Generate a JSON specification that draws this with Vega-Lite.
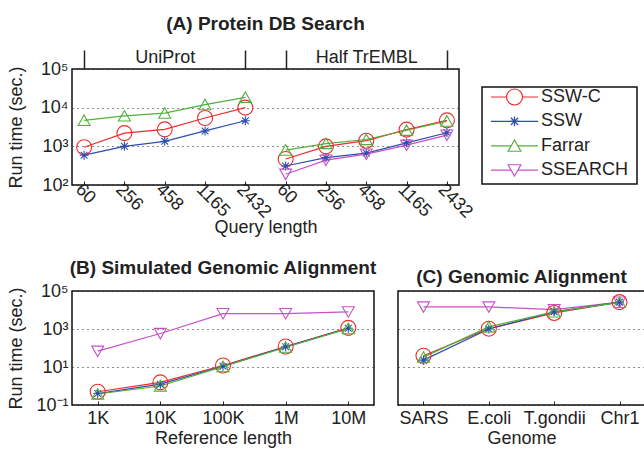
{
  "$schema": "https://vega.github.io/schema/vega-lite/v6.json",
  "padding": {"left": 6, "top": 14, "right": 0, "bottom": 0},
  "background": "white",
  "config": {
    "font": "Liberation Sans",
    "view": {"stroke": "#111", "strokeWidth": 1.5},
    "axis": {"labelFont": "Liberation Sans", "titleFont": "Liberation Sans", "labelFontSize": 18, "titleFontSize": 18, "titleFontWeight": "normal", "labelColor": "#222", "titleColor": "#222", "domain": false, "tickColor": "#222", "grid": false},
    "title": {"font": "Liberation Sans", "fontSize": 19, "fontWeight": "bold", "color": "#222"}
  },
  "datasets": {
    "protein": [
      {"db": "UniProt", "i": 0, "algo": "SSW-C", "t": 950},
      {"db": "UniProt", "i": 1, "algo": "SSW-C", "t": 2200},
      {"db": "UniProt", "i": 2, "algo": "SSW-C", "t": 2750},
      {"db": "UniProt", "i": 3, "algo": "SSW-C", "t": 5400},
      {"db": "UniProt", "i": 4, "algo": "SSW-C", "t": 10000},
      {"db": "Half TrEMBL", "i": 5, "algo": "SSW-C", "t": 470},
      {"db": "Half TrEMBL", "i": 6, "algo": "SSW-C", "t": 1000},
      {"db": "Half TrEMBL", "i": 7, "algo": "SSW-C", "t": 1400},
      {"db": "Half TrEMBL", "i": 8, "algo": "SSW-C", "t": 2700},
      {"db": "Half TrEMBL", "i": 9, "algo": "SSW-C", "t": 4700},
      {"db": "UniProt", "i": 0, "algo": "SSW", "t": 590},
      {"db": "UniProt", "i": 1, "algo": "SSW", "t": 1000},
      {"db": "UniProt", "i": 2, "algo": "SSW", "t": 1350},
      {"db": "UniProt", "i": 3, "algo": "SSW", "t": 2500},
      {"db": "UniProt", "i": 4, "algo": "SSW", "t": 4600},
      {"db": "Half TrEMBL", "i": 5, "algo": "SSW", "t": 310},
      {"db": "Half TrEMBL", "i": 6, "algo": "SSW", "t": 510},
      {"db": "Half TrEMBL", "i": 7, "algo": "SSW", "t": 670},
      {"db": "Half TrEMBL", "i": 8, "algo": "SSW", "t": 1230},
      {"db": "Half TrEMBL", "i": 9, "algo": "SSW", "t": 2250},
      {"db": "UniProt", "i": 0, "algo": "Farrar", "t": 4700},
      {"db": "UniProt", "i": 1, "algo": "Farrar", "t": 6100},
      {"db": "UniProt", "i": 2, "algo": "Farrar", "t": 7200},
      {"db": "UniProt", "i": 3, "algo": "Farrar", "t": 12000},
      {"db": "UniProt", "i": 4, "algo": "Farrar", "t": 18500},
      {"db": "Half TrEMBL", "i": 5, "algo": "Farrar", "t": 800},
      {"db": "Half TrEMBL", "i": 6, "algo": "Farrar", "t": 1180},
      {"db": "Half TrEMBL", "i": 7, "algo": "Farrar", "t": 1500},
      {"db": "Half TrEMBL", "i": 8, "algo": "Farrar", "t": 2600},
      {"db": "Half TrEMBL", "i": 9, "algo": "Farrar", "t": 4500},
      {"db": "Half TrEMBL", "i": 5, "algo": "SSEARCH", "t": 190},
      {"db": "Half TrEMBL", "i": 6, "algo": "SSEARCH", "t": 440},
      {"db": "Half TrEMBL", "i": 7, "algo": "SSEARCH", "t": 630},
      {"db": "Half TrEMBL", "i": 8, "algo": "SSEARCH", "t": 1070},
      {"db": "Half TrEMBL", "i": 9, "algo": "SSEARCH", "t": 1950}
    ],
    "sim": [
      {"ref": "1K", "algo": "SSEARCH", "t": 68},
      {"ref": "10K", "algo": "SSEARCH", "t": 580},
      {"ref": "100K", "algo": "SSEARCH", "t": 6500},
      {"ref": "1M", "algo": "SSEARCH", "t": 6500},
      {"ref": "10M", "algo": "SSEARCH", "t": 8000},
      {"ref": "1K", "algo": "SSW-C", "t": 0.5},
      {"ref": "10K", "algo": "SSW-C", "t": 1.55},
      {"ref": "100K", "algo": "SSW-C", "t": 12},
      {"ref": "1M", "algo": "SSW-C", "t": 120},
      {"ref": "10M", "algo": "SSW-C", "t": 1150},
      {"ref": "1K", "algo": "SSW", "t": 0.4},
      {"ref": "10K", "algo": "SSW", "t": 1.25},
      {"ref": "100K", "algo": "SSW", "t": 11},
      {"ref": "1M", "algo": "SSW", "t": 115},
      {"ref": "10M", "algo": "SSW", "t": 1100},
      {"ref": "1K", "algo": "Farrar", "t": 0.38},
      {"ref": "10K", "algo": "Farrar", "t": 1.0},
      {"ref": "100K", "algo": "Farrar", "t": 10.5},
      {"ref": "1M", "algo": "Farrar", "t": 110},
      {"ref": "10M", "algo": "Farrar", "t": 1050}
    ],
    "genome": [
      {"g": "SARS", "algo": "SSEARCH", "t": 14500},
      {"g": "E.coli", "algo": "SSEARCH", "t": 14500},
      {"g": "T.gondii", "algo": "SSEARCH", "t": 10500},
      {"g": "Chr1", "algo": "SSEARCH", "t": 26000},
      {"g": "SARS", "algo": "SSW-C", "t": 39},
      {"g": "E.coli", "algo": "SSW-C", "t": 1040},
      {"g": "T.gondii", "algo": "SSW-C", "t": 7000},
      {"g": "Chr1", "algo": "SSW-C", "t": 26000},
      {"g": "SARS", "algo": "SSW", "t": 23},
      {"g": "E.coli", "algo": "SSW", "t": 1000},
      {"g": "T.gondii", "algo": "SSW", "t": 8000},
      {"g": "Chr1", "algo": "SSW", "t": 26000},
      {"g": "SARS", "algo": "Farrar", "t": 33},
      {"g": "E.coli", "algo": "Farrar", "t": 1300},
      {"g": "T.gondii", "algo": "Farrar", "t": 8000},
      {"g": "Chr1", "algo": "Farrar", "t": 25000}
    ],
    "legendrows": [
      {"algo": "SSW-C"}, {"algo": "SSW"}, {"algo": "Farrar"}, {"algo": "SSEARCH"}
    ]
  },
  "spacing": 21,
  "vconcat": [
    {
      "spacing": 5,
      "hconcat": [
        {
          "title": {"text": "(A) Protein DB Search", "offset": 14},
          "width": 387,
          "height": 116,
          "data": {"name": "protein"},
          "layer": [
            {
              "mark": {"type": "line", "strokeWidth": 1.2},
              "encoding": {
                "x": {"field": "i", "type": "quantitative", "scale": {"domain": [-0.3, 9.3], "nice": false, "zero": false},
                  "axis": {"orient": "bottom", "values": [0,1,2,3,4,5,6,7,8,9], "labelExpr": "['60','256','458','1165','2432'][datum.value % 5]", "labelAngle": 45, "labelAlign": "left", "labelBaseline": "top", "tickSize": -4, "labelPadding": -1, "labelOverlap": false, "labelBound": false, "labelFlush": false, "title": "Query length", "titlePadding": -3}},
                "y": {"field": "t", "type": "quantitative", "scale": {"type": "log", "domain": [100, 100000], "nice": false},
                  "axis": {"values": [100, 1000, 10000, 100000], "labelExpr": "datum.value == 100 ? '10²' : datum.value == 1000 ? '10³' : datum.value == 10000 ? '10⁴' : '10⁵'", "grid": true, "gridDash": [1, 4], "gridColor": "#222", "gridWidth": 1.2, "ticks": false, "labelPadding": 4, "minExtent": 43, "maxExtent": 43, "title": "Run time (sec.)", "titlePadding": 4}},
                "color": {"field": "algo", "type": "nominal", "scale": {"domain": ["SSW-C", "SSW", "Farrar", "SSEARCH"], "range": ["#ee2b2b", "#2c4eae", "#52b03a", "#c652c6"]}, "legend": null},
                "detail": {"field": "db"}
              }
            },
            {
              "mark": {"type": "point", "filled": false, "size": 225, "strokeWidth": 1.1, "opacity": 1},
              "encoding": {
                "x": {"field": "i", "type": "quantitative", "scale": {"domain": [-0.3, 9.3], "nice": false, "zero": false},
                  "axis": {"orient": "top", "values": [0, 2, 4, 5, 7, 9], "labelExpr": "datum.value == 2 ? 'UniProt' : datum.value == 7 ? 'Half TrEMBL' : ''", "tickSize": 19, "tickWidth": 1.5, "tickColor": "#222", "tickOpacity": {"condition": {"test": "datum.value == 2 || datum.value == 7", "value": 0}, "value": 1}, "labelPadding": -16, "labelOverlap": false, "labelBound": false, "labelFlush": false, "title": null}},
                "y": {"field": "t", "type": "quantitative"},
                "color": {"field": "algo", "type": "nominal", "legend": null},
                "shape": {"field": "algo", "type": "nominal", "scale": {"domain": ["SSW-C", "SSW", "Farrar", "SSEARCH"], "range": ["circle", "M-0.6,0H0.6M0,-0.6V0.6M-0.45,-0.45L0.45,0.45M-0.45,0.45L0.45,-0.45", "M0,-0.72L0.8,0.68L-0.8,0.68Z", "M0,0.72L0.8,-0.68L-0.8,-0.68Z"]}, "legend": null}
              }
            }
          ],
          "resolve": {"axis": {"x": "independent"}}
        },
        {
          "width": 155,
          "height": 116,
          "view": {"stroke": "transparent", "strokeWidth": 0},
          "data": {"name": "legendrows"},
          "layer": [
            {"mark": {"type": "rect", "fill": "white", "stroke": "#111", "strokeWidth": 1.5},
              "data": {"values": [{"frame": 1}]},
              "encoding": {
                "x": {"datum": 0, "type": "quantitative", "scale": {"domain": [0, 155], "nice": false, "zero": false}, "axis": null},
                "x2": {"datum": 155},
                "y": {"datum": 98, "type": "quantitative", "scale": {"domain": [0, 116], "nice": false, "zero": false}, "axis": null},
                "y2": {"datum": 1}
              }},
            {"mark": {"type": "rule", "strokeWidth": 1.2},
              "encoding": {
                "x": {"datum": 9, "type": "quantitative"},
                "x2": {"datum": 56},
                "y": {"field": "algo", "type": "nominal", "sort": ["SSW-C", "SSW", "Farrar", "SSEARCH"], "scale": {"type": "point", "domain": ["SSW-C", "SSW", "Farrar", "SSEARCH"], "padding": 0.877, "align": 0.654}, "axis": null},
                "color": {"field": "algo", "type": "nominal", "scale": {"domain": ["SSW-C", "SSW", "Farrar", "SSEARCH"], "range": ["#ee2b2b", "#2c4eae", "#52b03a", "#c652c6"]}, "legend": null}
              }},
            {"mark": {"type": "point", "fill": "white", "fillOpacity": 1, "size": 256, "strokeWidth": 1.2, "opacity": 1},
              "encoding": {
                "x": {"datum": 32.5, "type": "quantitative"},
                "y": {"field": "algo", "type": "nominal", "sort": ["SSW-C", "SSW", "Farrar", "SSEARCH"], "scale": {"type": "point", "domain": ["SSW-C", "SSW", "Farrar", "SSEARCH"], "padding": 0.877, "align": 0.654}, "axis": null},
                "stroke": {"field": "algo", "type": "nominal", "scale": {"domain": ["SSW-C", "SSW", "Farrar", "SSEARCH"], "range": ["#ee2b2b", "#2c4eae", "#52b03a", "#c652c6"]}, "legend": null},
                "shape": {"field": "algo", "type": "nominal", "scale": {"domain": ["SSW-C", "SSW", "Farrar", "SSEARCH"], "range": ["circle", "M-0.55,0H0.55M0,-0.55V0.55M-0.4,-0.4L0.4,0.4M-0.4,0.4L0.4,-0.4", "M0,-0.85L0.95,0.75L-0.95,0.75Z", "M0,0.85L0.95,-0.75L-0.95,-0.75Z"]}, "legend": null}
              }},
            {"mark": {"type": "text", "align": "left", "baseline": "middle", "fontSize": 18, "font": "Liberation Sans", "color": "#222"},
              "encoding": {
                "x": {"datum": 59, "type": "quantitative"},
                "y": {"field": "algo", "type": "nominal", "sort": ["SSW-C", "SSW", "Farrar", "SSEARCH"], "scale": {"type": "point", "domain": ["SSW-C", "SSW", "Farrar", "SSEARCH"], "padding": 0.877, "align": 0.654}, "axis": null},
                "text": {"field": "algo", "type": "nominal"}
              }}
          ],
          "resolve": {"scale": {"y": "independent"}}
        }
      ]
    },
    {
      "spacing": 19,
      "hconcat": [
        {
          "title": {"text": "(B) Simulated Genomic Alignment", "offset": 4},
          "width": 302,
          "height": 114,
          "data": {"name": "sim"},
          "encoding": {
            "x": {"field": "ref", "type": "ordinal", "sort": ["1K", "10K", "100K", "1M", "10M"], "scale": {"type": "point", "padding": 0.41},
              "axis": {"labelAngle": 0, "tickSize": -4, "labelPadding": 8, "title": "Reference length", "titlePadding": 2}},
            "y": {"field": "t", "type": "quantitative", "scale": {"type": "log", "domain": [0.1, 100000], "nice": false},
              "axis": {"values": [0.1, 10, 1000, 100000], "labelExpr": "datum.value < 1 ? '10⁻¹' : datum.value == 10 ? '10¹' : datum.value == 1000 ? '10³' : '10⁵'", "grid": true, "gridDash": [1, 4], "gridColor": "#222", "gridWidth": 1.2, "ticks": false, "labelPadding": 4, "minExtent": 43, "maxExtent": 43, "title": "Run time (sec.)", "titlePadding": 4}},
            "color": {"field": "algo", "type": "nominal", "scale": {"domain": ["SSW-C", "SSW", "Farrar", "SSEARCH"], "range": ["#ee2b2b", "#2c4eae", "#52b03a", "#c652c6"]}, "legend": null}
          },
          "layer": [
            {"mark": {"type": "line", "strokeWidth": 1.2}},
            {"mark": {"type": "point", "filled": false, "size": 225, "strokeWidth": 1.1, "opacity": 1},
              "encoding": {"shape": {"field": "algo", "type": "nominal", "scale": {"domain": ["SSW-C", "SSW", "Farrar", "SSEARCH"], "range": ["circle", "M-0.6,0H0.6M0,-0.6V0.6M-0.45,-0.45L0.45,0.45M-0.45,0.45L0.45,-0.45", "M0,-0.72L0.8,0.68L-0.8,0.68Z", "M0,0.72L0.8,-0.68L-0.8,-0.68Z"]}, "legend": null}}}
          ]
        },
        {
          "title": {"text": "(C) Genomic Alignment", "offset": 4},
          "width": 247,
          "height": 114,
          "data": {"name": "genome"},
          "encoding": {
            "x": {"field": "g", "type": "ordinal", "sort": ["SARS", "E.coli", "T.gondii", "Chr1"], "scale": {"type": "point", "padding": 0.39},
              "axis": {"labelAngle": 0, "tickSize": -4, "labelPadding": 8, "title": "Genome", "titlePadding": 2}},
            "y": {"field": "t", "type": "quantitative", "scale": {"type": "log", "domain": [0.1, 100000], "nice": false},
              "axis": {"values": [0.1, 10, 1000, 100000], "labels": false, "grid": true, "gridDash": [1, 4], "gridColor": "#222", "gridWidth": 1.2, "ticks": false, "minExtent": 0, "maxExtent": 0, "title": null}},
            "color": {"field": "algo", "type": "nominal", "scale": {"domain": ["SSW-C", "SSW", "Farrar", "SSEARCH"], "range": ["#ee2b2b", "#2c4eae", "#52b03a", "#c652c6"]}, "legend": null}
          },
          "layer": [
            {"mark": {"type": "line", "strokeWidth": 1.2}},
            {"mark": {"type": "point", "filled": false, "size": 225, "strokeWidth": 1.1, "opacity": 1},
              "encoding": {"shape": {"field": "algo", "type": "nominal", "scale": {"domain": ["SSW-C", "SSW", "Farrar", "SSEARCH"], "range": ["circle", "M-0.6,0H0.6M0,-0.6V0.6M-0.45,-0.45L0.45,0.45M-0.45,0.45L0.45,-0.45", "M0,-0.72L0.8,0.68L-0.8,0.68Z", "M0,0.72L0.8,-0.68L-0.8,-0.68Z"]}, "legend": null}}}
          ]
        }
      ]
    }
  ]
}
